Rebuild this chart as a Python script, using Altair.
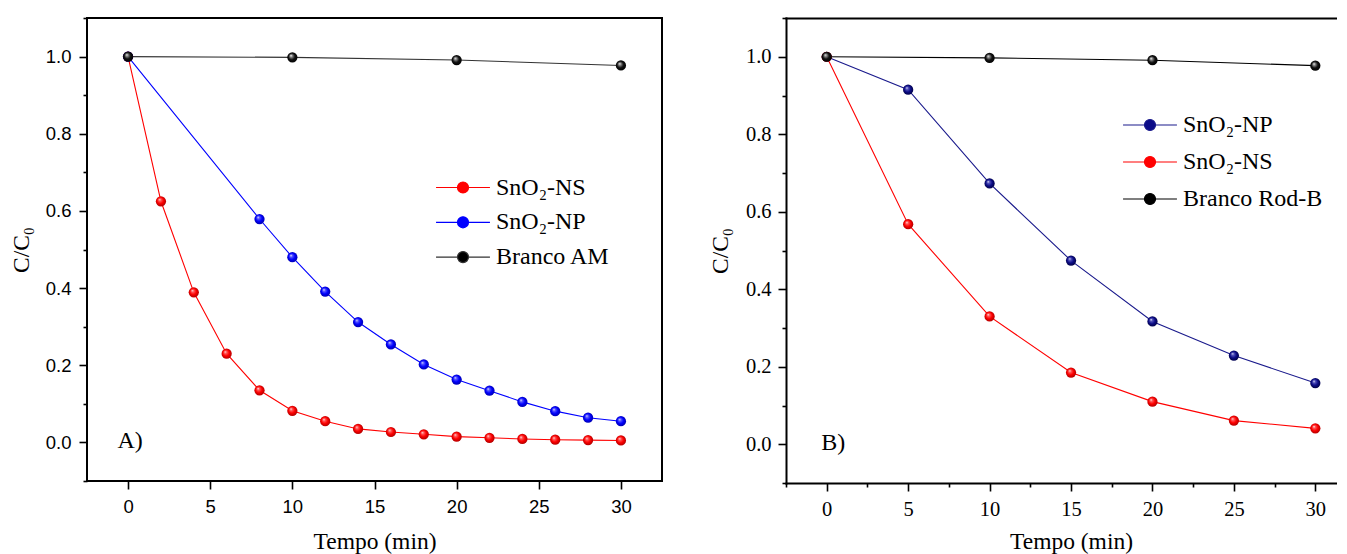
import altair as alt
import pandas as pd

# ---------------- Panel A (left) ----------------
a_ns_t = [0, 2, 4, 6, 8, 10, 12, 14, 16, 18, 20, 22, 24, 26, 28, 30]
a_ns_c = [1.0, 0.625, 0.389, 0.230, 0.135, 0.082, 0.055, 0.035, 0.027, 0.021,
          0.015, 0.012, 0.009, 0.007, 0.006, 0.005]
a_np_t = [0, 8, 10, 12, 14, 16, 18, 20, 22, 24, 26, 28, 30]
a_np_c = [1.0, 0.579, 0.480, 0.391, 0.312, 0.254, 0.202, 0.163, 0.134, 0.105,
          0.081, 0.064, 0.055]
a_bl_t = [0, 10, 20, 30]
a_bl_c = [1.0, 0.998, 0.991, 0.977]
a_names = ["SnO₂-NS", "SnO₂-NP", "Branco AM"]
a_line_colors = ["#ff0000", "#0000ff", "#333333"]

# ---------------- Panel B (right) ----------------
b_t = [0, 5, 10, 15, 20, 25, 30]
b_np_c = [1.0, 0.915, 0.673, 0.474, 0.317, 0.229, 0.158]
b_ns_c = [1.0, 0.568, 0.330, 0.185, 0.110, 0.061, 0.041]
b_bl_t = [0, 10, 20, 30]
b_bl_c = [1.0, 0.997, 0.991, 0.977]
b_names = ["SnO₂-NP", "SnO₂-NS", "Branco Rod-B"]
b_line_colors = ["#1a1a8c", "#ff0000", "#000000"]

# ---------------- axes / annotations ----------------
a_x_domain = [-2.5, 32.5]
b_x_domain = [-2.5, 31.3]      # panel B runs off the right edge of the figure
y_domain = [-0.1, 1.1]
x_major = [0, 5, 10, 15, 20, 25, 30]
x_minor = [-2.5, 2.5, 7.5, 12.5, 17.5, 22.5, 27.5]
y_major = [0.0, 0.2, 0.4, 0.6, 0.8, 1.0]
y_minor = [-0.1, 0.1, 0.3, 0.5, 0.7, 0.9, 1.1]
x_title = "Tempo (min)"
y_title = "C/C₀"
a_tag = ["A)"]
a_tag_x = [-0.65]
a_tag_y = [-0.015]
b_tag = ["B)"]
b_tag_x = [-0.33]
b_tag_y = [-0.015]

SERIF = "Liberation Serif"
SANS = "Liberation Sans"

LEG_PATH = ("M-4.9,0L-1,0M1,0L4.9,0"
            "M1,0A1,1,0,1,1,-1,0A1,1,0,1,1,1,0Z")


def sphere(light, mid, dark):
    return {
        "gradient": "radial",
        "x1": 0.36, "y1": 0.32, "r1": 0.0,
        "x2": 0.5, "y2": 0.5, "r2": 0.56,
        "stops": [
            {"offset": 0.0, "color": "#ffffff"},
            {"offset": 0.2, "color": light},
            {"offset": 0.55, "color": mid},
            {"offset": 1.0, "color": dark},
        ],
    }


a_spheres = [sphere("#ff6060", "#ff0000", "#a00000"),
             sphere("#6060ff", "#0000ff", "#0000a0"),
             sphere("#909090", "#101010", "#000000")]
b_spheres = [sphere("#5a5ac0", "#0c0c88", "#00003a"),
             sphere("#ff6060", "#ff0000", "#a00000"),
             sphere("#909090", "#101010", "#000000")]
a_dot_colors = ["#ff0000", "#0000ff", "#000000"]
b_dot_colors = ["#0c0c88", "#ff0000", "#000000"]


def make_df(ts, cs, names):
    rows = []
    for t_list, c_list, n in zip(ts, cs, names):
        for t, c in zip(t_list, c_list):
            rows.append({"t": t, "c": c, "series": n})
    return pd.DataFrame(rows)


df_a = make_df([a_ns_t, a_np_t, a_bl_t], [a_ns_c, a_np_c, a_bl_c], a_names)
df_b = make_df([b_t, b_t, b_bl_t], [b_ns_c, b_np_c, b_bl_c],
               ["SnO₂-NS", "SnO₂-NP", "Branco Rod-B"])


def panel(df, names, line_colors, spheres, dot_colors, xdom, w, h, tick_font,
          tick_fs, lab_pad_x, lab_pad_y, x_minor_vals, tpad_x, tpad_y,
          leg_x, leg_y, leg_row, leg_off, tag_df, title_x, frame_axes):
    xs = alt.Scale(domain=xdom, nice=False, zero=False)
    ys = alt.Scale(domain=y_domain, nice=False, zero=False)
    dom = dict(domain=frame_axes, domainColor="black", domainWidth=2,
               domainCap="square")
    tick_common = dict(grid=False, tickColor="black", tickWidth=1.6)
    lab_common = dict(labelColor="black", labelFont=tick_font,
                      labelFontSize=tick_fs, titleFont=SERIF,
                      titleFontSize=23.5, titleFontWeight="normal",
                      titleColor="black")
    x_main = alt.Axis(orient="bottom", values=x_major, tickSize=8,
                      labelPadding=lab_pad_x, format="d", minExtent=36,
                      maxExtent=36, title=x_title, titlePadding=tpad_x,
                      titleX=title_x, **dom, **tick_common, **lab_common)
    y_main = alt.Axis(orient="left", values=y_major, tickSize=8,
                      labelPadding=lab_pad_y, format=".1f", minExtent=42,
                      maxExtent=42, title=y_title, titlePadding=tpad_y,
                      **dom, **tick_common, **lab_common)
    if x_minor_vals:
        x_min = alt.Axis(orient="bottom", values=x_minor_vals, tickSize=4,
                         labels=False, title=None, domain=False,
                         **tick_common)
    else:
        x_min = None
    y_min = alt.Axis(orient="left", values=y_minor, tickSize=4,
                     labels=False, title=None, domain=False, **tick_common)
    x_top = None
    if frame_axes:
        x_top = alt.Axis(orient="top", ticks=False, labels=False, title=None,
                         grid=False, domain=True, domainColor="black",
                         domainWidth=2, domainCap="square")

    base = alt.Chart(df)
    layers = []
    # lines
    for i, (n, col) in enumerate(zip(names, line_colors)):
        lx = x_min if i == 0 else (x_top if i == 1 else None)
        ly = y_min if i == 0 else None
        layers.append(
            base.transform_filter(alt.datum.series == n)
            .mark_line(color=col, strokeWidth=1.1)
            .encode(x=alt.X("t:Q", scale=xs, axis=lx),
                    y=alt.Y("c:Q", scale=ys, axis=ly))
        )
    # legend carrier (hidden under the spheres)
    leg = alt.Legend(title=None, orient="none", legendX=leg_x, legendY=leg_y,
                     symbolType=LEG_PATH, symbolSize=121,
                     symbolStrokeWidth=1.2, symbolOpacity=1,
                     labelFont=SERIF, labelFontSize=24, labelColor="black",
                     labelOffset=leg_off, rowPadding=leg_row, padding=0,
                     labelLimit=400)
    layers.append(
        base.mark_circle(size=40, opacity=1, strokeWidth=1)
        .encode(x=alt.X("t:Q", scale=xs, axis=x_main),
                y=alt.Y("c:Q", scale=ys, axis=y_main),
                fill=alt.Fill("series:N",
                              scale=alt.Scale(domain=names, range=dot_colors),
                              legend=leg),
                stroke=alt.Stroke("series:N",
                                  scale=alt.Scale(domain=names,
                                                  range=line_colors),
                                  legend=leg))
    )
    # shaded spheres (black drawn last)
    for n, g in zip(names, spheres):
        layers.append(
            base.transform_filter(alt.datum.series == n)
            .mark_point(shape="circle", filled=True, fill=g, size=105,
                        strokeWidth=0, opacity=1)
            .encode(x=alt.X("t:Q", scale=xs, axis=None),
                    y=alt.Y("c:Q", scale=ys, axis=None))
        )
    layers.append(
        alt.Chart(tag_df).mark_text(align="left", baseline="alphabetic",
                                    font=SERIF, fontSize=24, color="black")
        .encode(x=alt.X("x:Q", scale=xs, axis=None),
                y=alt.Y("y:Q", scale=ys, axis=None),
                text="label:N")
    )
    out = (alt.layer(*layers)
           .resolve_axis(x="independent", y="independent")
           .properties(width=w, height=h))
    if frame_axes:
        out = out.properties(view=alt.ViewBackground(strokeOpacity=0))
    return out


tag_a = pd.DataFrame({"x": a_tag_x, "y": a_tag_y, "label": a_tag})
tag_b = pd.DataFrame({"x": b_tag_x, "y": b_tag_y, "label": b_tag})

left = panel(df_a, a_names, a_line_colors, a_spheres, a_dot_colors,
             a_x_domain, 575, 463, SANS, 18.5, 8, 8, [], 12, 11.5,
             364, 157.5, 10.8, 21, tag_a, 287.5, False)
right = panel(df_b, b_names, b_line_colors, b_spheres, b_dot_colors,
              b_x_domain, 550.5, 465, SERIF, 20.5, 8, 7, x_minor, 10, 12,
              352, 95, 13, 21, tag_b, 285, True)

chart = (alt.hconcat(left, right, spacing=45)
         .resolve_scale(fill="independent", stroke="independent")
         .resolve_legend(fill="independent", stroke="independent")
         .configure_view(stroke="black", strokeWidth=2)
         .properties(padding={"left": 0, "top": 8, "right": 0, "bottom": 0},
                     background="white"))

chart.save("out.html", embed_options={"renderer": "svg", "actions": False})
